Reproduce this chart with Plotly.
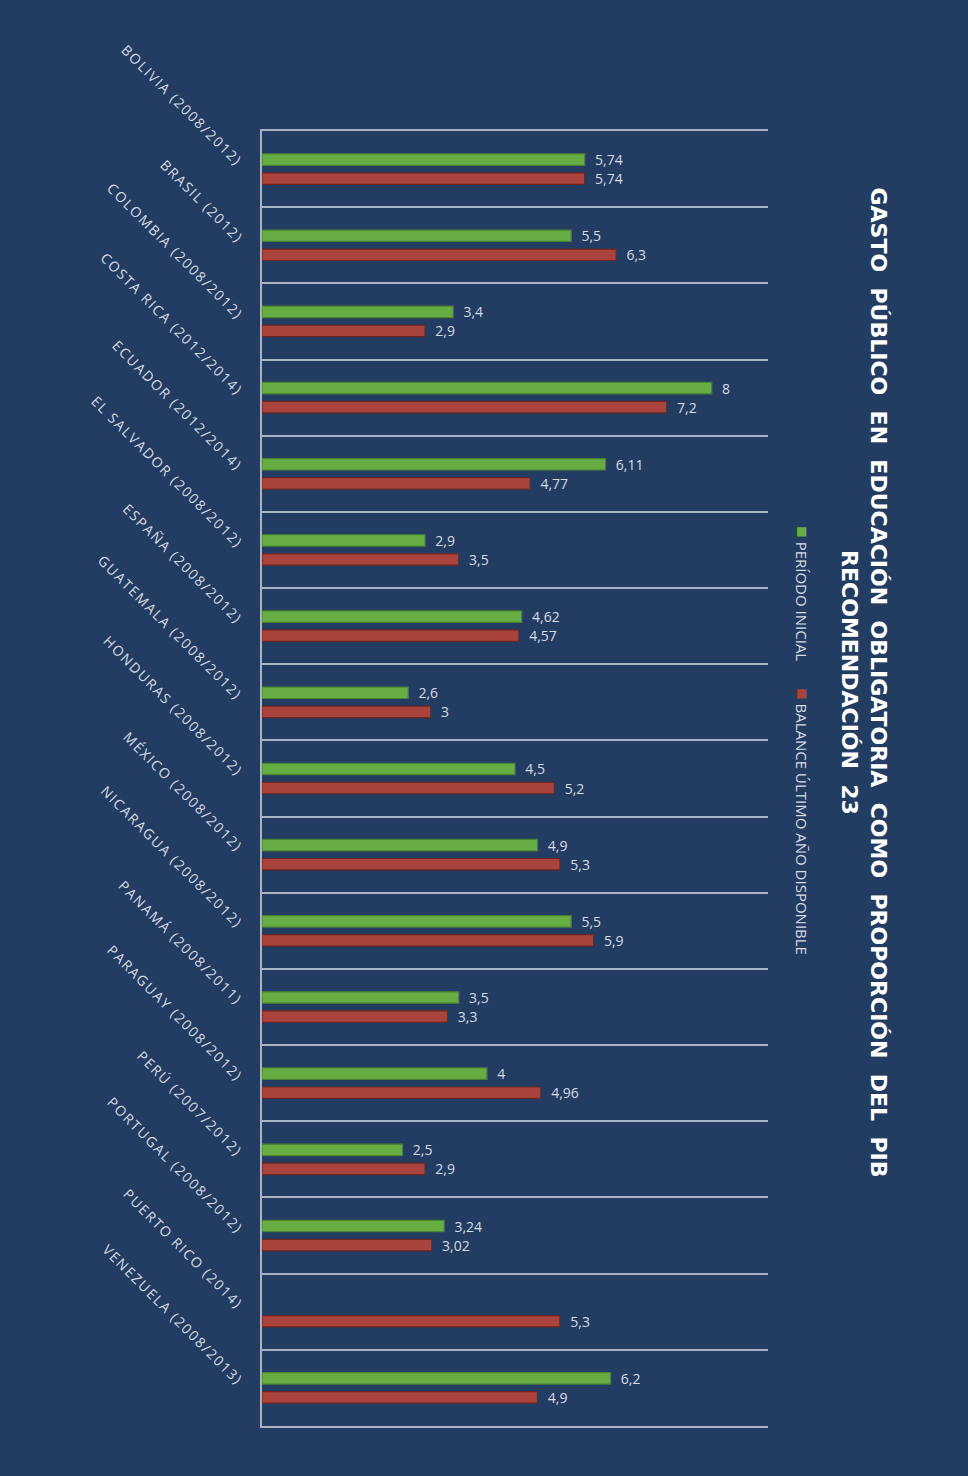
import plotly.graph_objects as go

categories = [
    "BOLIVIA (2008/2012)", "BRASIL (2012)", "COLOMBIA (2008/2012)",
    "COSTA RICA (2012/2014)", "ECUADOR (2012/2014)", "EL SALVADOR (2008/2012)",
    "ESPAÑA (2008/2012)", "GUATEMALA (2008/2012)", "HONDURAS (2008/2012)",
    "MÉXICO (2008/2012)", "NICARAGUA (2008/2012)", "PANAMÁ (2008/2011)",
    "PARAGUAY (2008/2012)", "PERÚ (2007/2012)", "PORTUGAL (2008/2012)",
    "PUERTO RICO (2014)", "VENEZUELA (2008/2013)",
]
periodo_inicial = [5.74, 5.5, 3.4, 8, 6.11, 2.9, 4.62, 2.6, 4.5, 4.9, 5.5,
                   3.5, 4, 2.5, 3.24, None, 6.2]
balance_ultimo = [5.74, 6.3, 2.9, 7.2, 4.77, 3.5, 4.57, 3, 5.2, 5.3, 5.9,
                  3.3, 4.96, 2.9, 3.02, 5.3, 4.9]
series_names = ["PERÍODO INICIAL", "BALANCE ÚLTIMO AÑO DISPONIBLE"]
title_lines = ["GASTO  PÚBLICO  EN  EDUCACIÓN  OBLIGATORIA  COMO  PROPORCIÓN  DEL  PIB",
               "RECOMENDACIÓN  23"]

BG = "#223d61"
GREEN = "#68ad44"
GREEN_D = "#4a8330"
RED = "#a9433b"
RED_D = "#6e2622"
LABEL = "#d6dbe4"
GRID = "#a7b2c4"

pos = list(range(len(categories)))

fig = go.Figure()
for vals, name, col, dcol in [(periodo_inicial, series_names[0], GREEN, GREEN_D),
                              (balance_ultimo, series_names[1], RED, RED_D)]:
    fig.add_trace(go.Bar(
        y=pos, x=vals, orientation="h", name=name,
        marker=dict(color=col, line=dict(color=dcol, width=1.2)),
        texttemplate="\u00a0\u00a0%{x}", textposition="outside",
        constraintext="none",
        textfont=dict(color=LABEL, size=14, family="Open Sans"),
        cliponaxis=False, showlegend=False,
    ))

annotations = []
for i, c in enumerate(categories):
    annotations.append(dict(
        xref="paper", yref="y", x=0, y=i, xshift=-12, yshift=-4,
        xanchor="right", yanchor="bottom", textangle=45, showarrow=False,
        text=f'<span style="letter-spacing:1.6px">{c}</span>',
        font=dict(family="Open Sans", size=14, color=LABEL),
    ))

annotations.append(dict(
    xref="paper", yref="paper", x=1.19, y=0.574, xanchor="center", yanchor="middle",
    textangle=90, showarrow=False, text="<br>".join(title_lines),
    font=dict(family="DejaVu Sans", size=22, color="#ffffff", weight="bold"),
))
for name, col, ypos in [(series_names[0], GREEN, 0.6960), (series_names[1], RED, 0.5710)]:
    annotations.append(dict(
        xref="paper", yref="paper", x=1.069, y=ypos, xanchor="center", yanchor="top",
        textangle=90, showarrow=False,
        text=f'<span style="color:{col};font-size:19px">■</span> {name}',
        font=dict(family="Open Sans", size=15, color=LABEL),
    ))

fig.update_layout(
    width=968, height=1476,
    margin=dict(l=262, r=200, t=131, b=50),
    paper_bgcolor=BG, plot_bgcolor=BG,
    barmode="group", bargap=0.5, bargroupgap=0.4,
    separators=",.",
    annotations=annotations,
    xaxis=dict(range=[0, 9], showgrid=False, zeroline=False, showticklabels=False,
               showline=True, mirror=True, linecolor=GRID, linewidth=1.5),
    yaxis=dict(range=[16.5, -0.5], tickmode="array",
               tickvals=[i - 0.5 for i in range(len(categories) + 1)],
               showticklabels=False, showgrid=True, gridcolor=GRID, gridwidth=1.5,
               zeroline=False, showline=True, linecolor=GRID, linewidth=1.5),
)

fig.write_html("out.html")
